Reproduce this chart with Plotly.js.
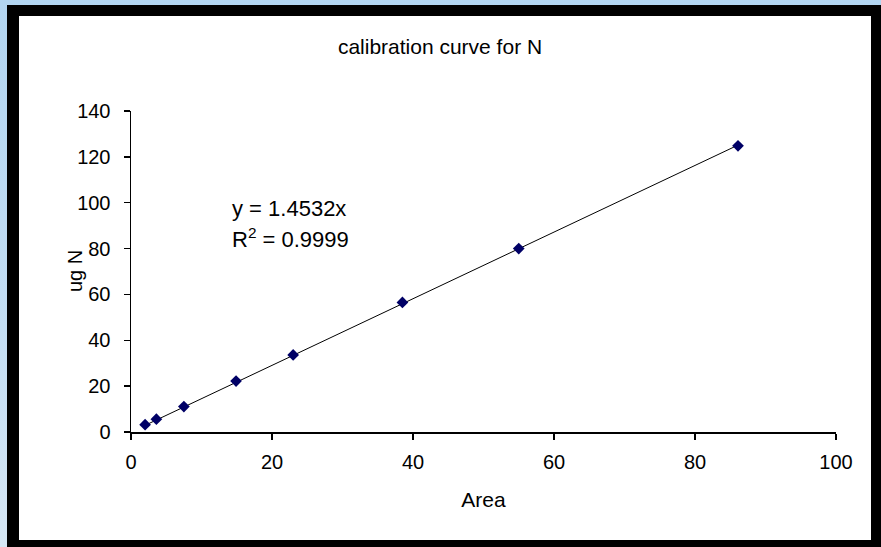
<!DOCTYPE html>
<html>
<head>
<meta charset="utf-8">
<script src="https://cdn.plot.ly/plotly-3.0.1.min.js"></script>
<style>
  html, body { margin: 0; padding: 0; }
  body { width: 881px; height: 547px; overflow: hidden; position: relative;
         background: linear-gradient(180deg, #b2d5f1 0%, #c4def4 60%, #d6e7f5 100%); }
  #frame { position: absolute; left: 7px; top: 5px; width: 874px; height: 542px; background: #000; }
  #inner { position: absolute; left: 19px; top: 16px; width: 852px; height: 524px; background: #fff; }
  #chart { position: absolute; left: 0; top: 0; width: 881px; height: 547px; }
</style>
</head>
<body>
<div id="frame"></div>
<div id="inner"></div>
<div id="chart"></div>
<script>
// Data
const area = [2.0, 3.6, 7.5, 14.9, 23.0, 38.5, 55.0, 86.1];
const ugN  = [3.2, 5.6, 11.1, 22.2, 33.6, 56.5, 80.0, 124.8];

// Trendline shown in the chart (linear, forced through origin)
const slope = 1.4532;
const rSquared = "0.9999";
const trendX = [Math.min(...area), Math.max(...area)];
const trendY = trendX.map(v => slope * v);

const xTicks = [0, 20, 40, 60, 80, 100];
const yTicks = [0, 20, 40, 60, 80, 100, 120, 140];

const chartTitle = "calibration curve for N";
const xTitle = "Area";
const yTitle = "ug N";

const FONT = "Arial, 'Liberation Sans', sans-serif";

const traces = [
  {
    x: trendX, y: trendY, type: "scatter", mode: "lines",
    line: { color: "#000000", width: 1 },
    hoverinfo: "skip", showlegend: false
  },
  {
    x: area, y: ugN, type: "scatter", mode: "markers",
    marker: { symbol: "diamond", size: 9, color: "#000066", line: { width: 0 } },
    showlegend: false
  }
];

const layout = {
  width: 881, height: 547,
  paper_bgcolor: "rgba(0,0,0,0)",
  plot_bgcolor: "rgba(0,0,0,0)",
  margin: { l: 131, r: 45, t: 111, b: 115 },
  font: { family: FONT, color: "#000000", size: 20 },
  showlegend: false,
  title: {
    text: chartTitle,
    font: { family: FONT, size: 21, color: "#000000" },
    x: 440 / 881, xref: "container", xanchor: "center",
    y: 1 - 47 / 547, yref: "container", yanchor: "middle"
  },
  xaxis: {
    range: [0, 100], tickvals: xTicks, ticktext: xTicks.map(String),
    showgrid: false, zeroline: false,
    showline: true, linecolor: "#000000", linewidth: 1.5,
    ticks: "outside", ticklen: 6, tickwidth: 1.5, tickcolor: "#000000",
    tickfont: { family: FONT, size: 20, color: "#000000" },
    ticklabelstandoff: 5,
    title: { text: xTitle, font: { family: FONT, size: 21, color: "#000000" }, standoff: 21 },
    automargin: false
  },
  yaxis: {
    range: [0, 140], tickvals: yTicks, ticktext: yTicks.map(String),
    showgrid: false, zeroline: false,
    showline: true, linecolor: "#000000", linewidth: 1.5,
    ticks: "outside", ticklen: 6, tickwidth: 1.5, tickcolor: "#000000",
    tickfont: { family: FONT, size: 20, color: "#000000" },
    ticklabelstandoff: 9,
    automargin: false
  },
  annotations: [
    {
      // y-axis title, placed as a rotated annotation for exact positioning
      text: yTitle, textangle: -90,
      x: (75 - 131) / 705, y: (432 - 271) / 321, xref: "paper", yref: "paper",
      xanchor: "center", yanchor: "middle", showarrow: false,
      font: { family: FONT, size: 20, color: "#000000" }
    },
    {
      text: "y = " + slope + "x",
      x: 14.0, y: 97.5, xref: "x", yref: "y",
      xanchor: "left", yanchor: "middle", showarrow: false,
      font: { family: FONT, size: 22, color: "#000000" }
    },
    {
      text: "R<sup>2</sup> = " + rSquared,
      x: 14.0, y: 84.5, xref: "x", yref: "y",
      xanchor: "left", yanchor: "middle", showarrow: false,
      font: { family: FONT, size: 22, color: "#000000" }
    }
  ]
};

Plotly.newPlot("chart", traces, layout, { displayModeBar: false, staticPlot: true });
</script>
</body>
</html>
